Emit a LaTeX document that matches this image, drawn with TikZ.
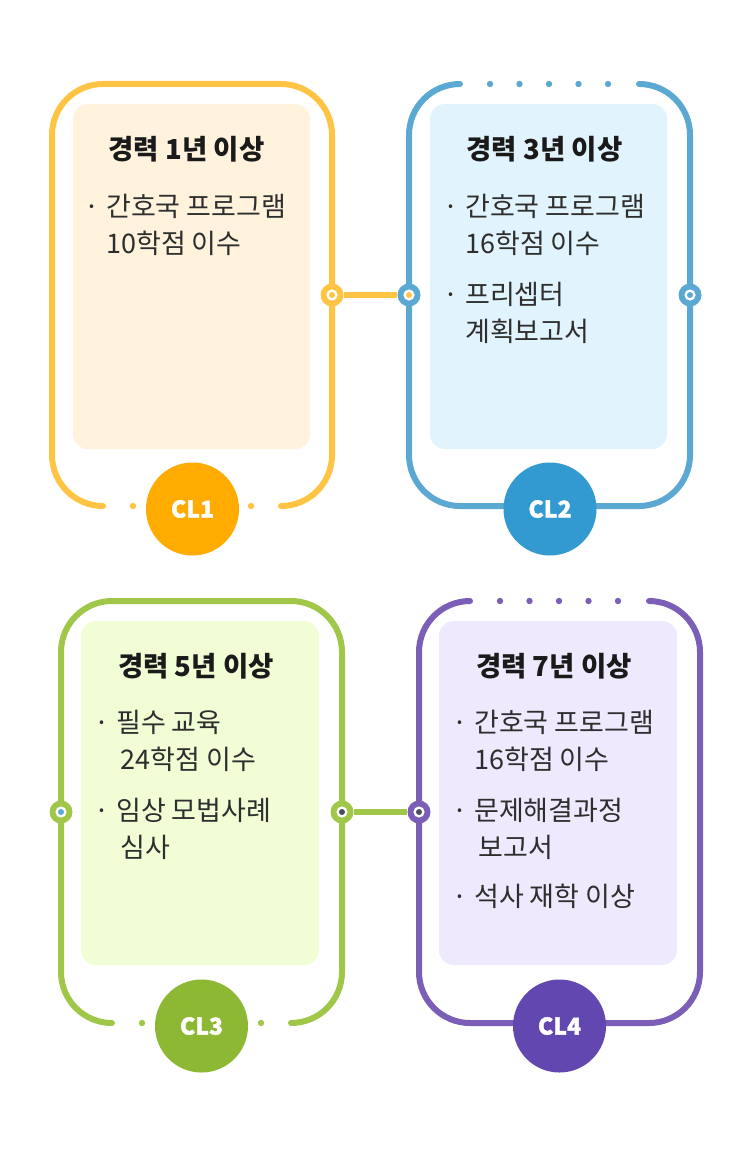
\documentclass[tikz,border=0pt]{standalone}
\usepackage{fontspec}
\setmainfont{Noto Sans CJK KR}
\newfontfamily\clfont[BoldFeatures={FakeBold=1.6}]{Noto Sans CJK KR}
\definecolor{fY}{HTML}{FFC444}
\definecolor{cY}{HTML}{FFAB00}
\definecolor{iY}{HTML}{FFF3DE}
\definecolor{fB}{HTML}{5BA9D3}
\definecolor{cB}{HTML}{3399D1}
\definecolor{iB}{HTML}{E1F3FD}
\definecolor{fG}{HTML}{A0C749}
\definecolor{cG}{HTML}{8CB833}
\definecolor{iG}{HTML}{F0FDD5}
\definecolor{fP}{HTML}{7A5EB8}
\definecolor{cP}{HTML}{6347B0}
\definecolor{iP}{HTML}{EEE9FD}
\definecolor{dk}{HTML}{4A4F5C}
\definecolor{txt}{HTML}{2E2E2E}
\definecolor{ttl}{HTML}{1A1A1A}
\newcommand\bitem[1]{\makebox[0pt]{·}\hspace{14pt}\begin{tabular}[t]{@{}l@{}}#1\end{tabular}}
\begin{document}
\begin{tikzpicture}[x=1pt,y=-1pt,
  framepath/.style={line width=6pt, rounded corners=51pt, line cap=round},
  innerbox/.style={rounded corners=15pt},
  clnode/.style={circle, minimum size=93pt, inner sep=0pt, text=white,
    font=\clfont\fontsize{23}{23}\selectfont\bfseries},
  ttlnode/.style={inner sep=0pt, anchor=base, text=ttl,
    font=\fontsize{27.5}{30}\selectfont\bfseries},
  bodynode/.style={inner sep=0pt, anchor=base west, text=txt,
    font=\fontsize{27}{37}\selectfont},
  ring/.style 2 args={circle, fill=#1, minimum size=23pt, inner sep=0pt,
    path picture={\fill[white] (path picture bounding box.center) circle (5.6pt);
      \fill[#2] (path picture bounding box.center) circle (3pt);}},
  conn/.style={line width=6pt}]
\useasboundingbox (0,0) rectangle (750,1153);
\fill[white] (0,0) rectangle (750,1153);

% inner fills
\fill[iY, innerbox] (73,104) rectangle (310,449);
\fill[iB, innerbox] (430,104) rectangle (667,449);
\fill[iG, innerbox] (81,621) rectangle (319,965);
\fill[iP, innerbox] (439,621) rectangle (677,965);

% frames
\draw[framepath, fY] (103,506) -- (52,506) -- (52,84) -- (332,84) -- (332,506) -- (281,506);
\foreach \x in {133,251} \fill[fY] (\x,506) circle (3.2pt);
\draw[framepath, fB] (460,84) -- (409,84) -- (409,506) -- (690,506) -- (690,84) -- (639,84);
\foreach \x in {490,519.5,549,578.5,608} \fill[fB] (\x,84) circle (3.2pt);
\draw[framepath, fG] (112,1023) -- (61,1023) -- (61,601) -- (342,601) -- (342,1023) -- (291,1023);
\foreach \x in {142,261} \fill[fG] (\x,1023) circle (3.2pt);
\draw[framepath, fP] (470,601) -- (419,601) -- (419,1023) -- (700,1023) -- (700,601) -- (649,601);
\foreach \x in {500,529.5,559,588.5,618} \fill[fP] (\x,601) circle (3.2pt);

% CL circles
\node[clnode, fill=cY] (cl1) at (192.5,509) {CL1};
\node[clnode, fill=cB] (cl2) at (550,509) {CL2};
\node[clnode, fill=cG] (cl3) at (201.5,1026) {CL3};
\node[clnode, fill=cP] (cl4) at (559.5,1026) {CL4};

% rings and connectors
\node[ring={fY}{fY}] (r1) at (332,295) {};
\node[ring={fB}{fY}] (r2) at (409,295) {};
\node[ring={fB}{fB}] (r3) at (690,295) {};
\node[ring={fG}{fB}] (r4) at (61,812) {};
\node[ring={fG}{dk}] (r5) at (342,812) {};
\node[ring={fP}{dk}] (r6) at (419,812) {};
\draw[conn, fY] (r1) -- (r2);
\draw[conn, fG] (r5) -- (r6);

% titles
\node[ttlnode] (t1) at (186.5,159) {경력 1년 이상};
\node[ttlnode] (t2) at (544.5,159) {경력 3년 이상};
\node[ttlnode] (t3) at (196,676) {경력 5년 이상};
\node[ttlnode] (t4) at (554,676) {경력 7년 이상};

% bodies
\node[bodynode] (b11) at (92,216) {\bitem{간호국 프로그램\\10학점 이수}};
\node[bodynode] (b21) at (451,216) {\bitem{간호국 프로그램\\16학점 이수}};
\node[bodynode] (b22) at (451,304) {\bitem{프리셉터\\계획보고서}};
\node[bodynode] (b31) at (102,732) {\bitem{필수 교육\\\,24학점 이수}};
\node[bodynode] (b32) at (102,820) {\bitem{임상 모법사례\\\,심사}};
\node[bodynode] (b41) at (460,732) {\bitem{간호국 프로그램\\16학점 이수}};
\node[bodynode] (b42) at (460,820) {\bitem{문제해결과정\\\,보고서}};
\node[bodynode] (b43) at (460,906) {\bitem{석사 재학 이상}};
\end{tikzpicture}
\end{document}
